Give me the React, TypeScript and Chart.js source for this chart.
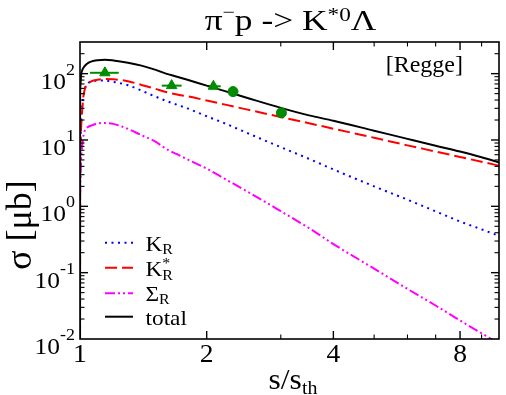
import React, { useEffect, useRef } from 'react';
import { Chart, registerables } from 'chart.js';

Chart.register(...registerables);

// s/s_th sample points shared by the theory curves
const sRatio = [1.0, 1.0005, 1.002, 1.006, 1.012, 1.02, 1.03, 1.046, 1.066, 1.1, 1.146, 1.2, 1.3, 1.4, 1.5, 1.6, 1.7, 1.8, 2.0, 2.2, 2.5, 3.0, 3.5, 4.0, 5.0, 6.0, 7.0, 8.0, 9.0, 10.0];
const totalSigma = [1e-4, 30, 65, 95, 112, 124, 134, 145, 153, 159, 162, 158, 146, 132, 116, 100, 90, 81, 66, 55, 43, 30.5, 23.5, 19.5, 13.8, 10.4, 8.2, 6.7, 5.5, 4.5];
const kStarRSigma = [1e-4, 3, 8, 15, 28, 48, 62, 70, 77, 81, 83, 82, 77, 67.6, 60, 53, 48.5, 45.5, 39.4, 34.4, 28.7, 22.2, 17.9, 14.8, 10.8, 8.3, 6.7, 5.55, 4.7, 4.04];
const kRSigma = [1e-4, 3, 8, 18, 32, 48, 63, 72, 76.6, 78.5, 78.5, 75, 67, 55.5, 46, 39, 34, 30, 22.8, 18, 12.7, 7.8, 5.2, 3.6, 2.0, 1.26, 0.84, 0.59, 0.45, 0.35];
const sigmaRSigma = [1e-4, 1, 2.5, 5, 8, 12, 14.5, 15.8, 16.6, 17.8, 18, 17.5, 14.7, 11.8, 9.7, 7.4, 6.1, 5.1, 3.7, 2.63, 1.67, 0.845, 0.47, 0.27, 0.115, 0.057, 0.032, 0.019, 0.0122, 0.0082];

// experimental data
const triX = [1.146, 1.651, 2.075];
const triY = [103, 66, 64.5];
const triXLo = [1.056, 1.564, 2.01];
const triXHi = [1.236, 1.744, 2.16];
const circX = [2.31, 3.01];
const circY = [53.6, 25.6];

// axes
const xMin = 1;
const xMax = 9.9;
const yMin = 0.01;
const yMax = 300;
const xMajorTicks = [1, 2, 4, 8];
const xMinorTicks = [3, 5, 6, 7, 9];
const yExponents = [-2, -1, 0, 1, 2];
const yMinorMultipliers = [2, 3, 4, 5, 6, 7, 8, 9];

const FONT = '"Liberation Serif", "Times New Roman", Times, serif';
const GREEN = '#008b00';
const BLUE = '#0000ff';
const RED = '#ff0000';
const MAGENTA = '#ff00ff';

const DASH_BLUE = [2, 4.5];
const DASH_RED = [12, 5];
const DASH_MAGENTA = [10, 3, 2, 3, 2, 3];

type Run = { t: string; s: number; dy?: number; noAdvance?: boolean };

function drawRuns(ctx: CanvasRenderingContext2D, runs: Run[], x: number, y: number, align: 'left' | 'center' | 'right', sx = 1) {
  ctx.save();
  ctx.textBaseline = 'alphabetic';
  ctx.textAlign = 'left';
  let w = 0;
  for (const r of runs) {
    ctx.font = `${r.s}px ${FONT}`;
    if (!r.noAdvance) w += ctx.measureText(r.t).width;
  }
  w *= sx;
  const start = align === 'left' ? x : align === 'center' ? x - w / 2 : x - w;
  ctx.translate(start, y);
  ctx.scale(sx, 1);
  let cx = 0;
  for (const r of runs) {
    ctx.font = `${r.s}px ${FONT}`;
    ctx.fillText(r.t, cx, r.dy || 0);
    if (!r.noAdvance) cx += ctx.measureText(r.t).width;
  }
  ctx.restore();
}

function seg(ctx: CanvasRenderingContext2D, x1: number, y1: number, x2: number, y2: number) {
  ctx.beginPath();
  ctx.moveTo(x1, y1);
  ctx.lineTo(x2, y2);
  ctx.stroke();
}

const decorPlugin = {
  id: 'decor',
  beforeDatasetsDraw(chart: any) {
    const { ctx, scales } = chart;
    const xs = scales.x;
    const ys = scales.y;
    ctx.save();
    ctx.strokeStyle = GREEN;
    ctx.lineWidth = 2;
    triX.forEach((_, i) => {
      const py = ys.getPixelForValue(triY[i]);
      seg(ctx, xs.getPixelForValue(triXLo[i]), py, xs.getPixelForValue(triXHi[i]), py);
    });
    ctx.restore();
  },
  afterDraw(chart: any) {
    const { ctx, chartArea: a, scales } = chart;
    const xs = scales.x;
    const ys = scales.y;
    ctx.save();
    ctx.strokeStyle = '#000';
    ctx.fillStyle = '#000';
    ctx.lineWidth = 1.6;
    ctx.strokeRect(a.left, a.top, a.right - a.left, a.bottom - a.top);

    const MAJ = 8;
    const MIN = 4.5;
    // x ticks (inward, bottom and top)
    ctx.lineWidth = 1.4;
    for (const v of xMajorTicks) {
      const px = xs.getPixelForValue(v);
      if (px > a.left + 1 && px < a.right - 1) {
        seg(ctx, px, a.bottom, px, a.bottom - MAJ);
        seg(ctx, px, a.top, px, a.top + MAJ);
      }
    }
    ctx.lineWidth = 1.1;
    for (const v of xMinorTicks) {
      const px = xs.getPixelForValue(v);
      if (px > a.left + 1 && px < a.right - 1) {
        seg(ctx, px, a.bottom, px, a.bottom - MIN);
        seg(ctx, px, a.top, px, a.top + MIN);
      }
    }
    // y ticks (inward, left and right)
    for (const e of yExponents) {
      ctx.lineWidth = 1.4;
      const py = ys.getPixelForValue(Math.pow(10, e));
      if (py < a.bottom - 1 && py > a.top + 1) {
        seg(ctx, a.left, py, a.left + MAJ, py);
        seg(ctx, a.right, py, a.right - MAJ, py);
      }
      ctx.lineWidth = 1.1;
      for (const m of yMinorMultipliers) {
        const v = m * Math.pow(10, e);
        if (v >= yMax) continue;
        const pm = ys.getPixelForValue(v);
        seg(ctx, a.left, pm, a.left + MIN, pm);
        seg(ctx, a.right, pm, a.right - MIN, pm);
      }
    }

    // tick labels
    for (const v of xMajorTicks) {
      const px = xs.getPixelForValue(v);
      drawRuns(ctx, [{ t: String(v), s: 26 }], px, a.bottom + 23, 'center', 1.06);
    }
    for (const e of yExponents) {
      const py = ys.getPixelForValue(Math.pow(10, e));
      drawRuns(ctx, [{ t: '10', s: 24 }, { t: String(e), s: 17, dy: -14 }], a.left - 5, py + 15, 'right', 1.06);
    }

    // title
    const cxm = (a.left + a.right) / 2;
    drawRuns(ctx, [
      { t: 'π', s: 29 },
      { t: '−', s: 18, dy: -12 },
      { t: 'p -> K', s: 29 },
      { t: '*0', s: 19, dy: -9 },
      { t: 'Λ', s: 29 },
    ], cxm + 1, 30, 'center', 1.22);

    // [Regge]
    drawRuns(ctx, [{ t: '[Regge]', s: 24 }], 463, 72, 'right', 1.0);

    // x title
    drawRuns(ctx, [{ t: 's/s', s: 30 }, { t: 'th', s: 19, dy: 5 }], 293, 389, 'center', 1.05);

    // y title
    ctx.save();
    ctx.translate(31, 225);
    ctx.rotate(-Math.PI / 2);
    drawRuns(ctx, [{ t: 'σ [μb]', s: 36 }], 0, 0, 'center', 1.0);
    ctx.restore();

    // legend
    const rows = [
      { y: 242.7, color: BLUE, dash: DASH_BLUE, runs: [{ t: 'K', s: 22 }, { t: 'R', s: 15, dy: 3 }] as Run[] },
      { y: 267.7, color: RED, dash: DASH_RED, runs: [{ t: 'K', s: 22 }, { t: '*', s: 15, dy: -8, noAdvance: true }, { t: 'R', s: 15, dy: 4 }] as Run[] },
      { y: 293.3, color: MAGENTA, dash: DASH_MAGENTA, runs: [{ t: 'Σ', s: 22 }, { t: 'R', s: 15, dy: 3 }] as Run[] },
      { y: 316.7, color: '#000', dash: [] as number[], runs: [{ t: 'total', s: 22 }] as Run[] },
    ];
    for (const r of rows) {
      ctx.save();
      ctx.strokeStyle = r.color;
      ctx.lineWidth = 2;
      ctx.setLineDash(r.dash);
      seg(ctx, a.left + 25, r.y, a.left + 53, r.y);
      ctx.restore();
      drawRuns(ctx, r.runs, a.left + 65.5, r.y + 8, 'left', 1.06);
    }
    ctx.restore();
  },
};

function toPoints(xv: number[], yv: number[]) {
  return xv.map((x, i) => ({ x, y: yv[i] }));
}

export default function App() {
  const ref = useRef<HTMLCanvasElement | null>(null);
  useEffect(() => {
    document.body.style.margin = '0';
    const canvas = ref.current;
    if (!canvas) return;
    const lineDs = (label: string, data: number[], color: string, dash: number[], order: number) => ({
      type: 'line' as const,
      label,
      data: toPoints(sRatio, data),
      borderColor: color,
      backgroundColor: color,
      borderWidth: 2,
      borderDash: dash,
      pointRadius: 0,
      fill: false,
      cubicInterpolationMode: 'monotone' as const,
      order,
    });
    const chart = new Chart(canvas, {
      type: 'line',
      data: {
        datasets: [
          {
            type: 'line',
            label: 'data (triangles)',
            data: toPoints(triX, triY),
            showLine: false,
            pointStyle: 'triangle',
            pointRadius: 6,
            pointBackgroundColor: GREEN,
            pointBorderColor: GREEN,
            pointBorderWidth: 1,
            order: 0,
          } as any,
          {
            type: 'line',
            label: 'data (circles)',
            data: toPoints(circX, circY),
            showLine: false,
            pointStyle: 'circle',
            pointRadius: 5,
            pointBackgroundColor: GREEN,
            pointBorderColor: GREEN,
            pointBorderWidth: 1,
            order: 0,
          } as any,
          lineDs('total', totalSigma, '#000000', [], 1),
          lineDs('K*R', kStarRSigma, RED, DASH_RED, 2),
          lineDs('KR', kRSigma, BLUE, DASH_BLUE, 3),
          lineDs('ΣR', sigmaRSigma, MAGENTA, DASH_MAGENTA, 4),
        ],
      },
      options: {
        responsive: false,
        maintainAspectRatio: false,
        animation: false,
        devicePixelRatio: 1,
        layout: { padding: { left: 80, top: 42, right: 5, bottom: 56 } },
        plugins: {
          legend: { display: false },
          title: { display: false },
          tooltip: { enabled: false },
        },
        scales: {
          x: { type: 'logarithmic', min: xMin, max: xMax, display: false },
          y: { type: 'logarithmic', min: yMin, max: yMax, display: false },
        },
      },
      plugins: [decorPlugin],
    });
    return () => chart.destroy();
  }, []);
  return (
    <div style={{ position: 'absolute', left: 0, top: 0, width: 506, height: 395, background: '#fff' }}>
      <canvas ref={ref} width={506} height={395} style={{ width: 506, height: 395, display: 'block' }} />
    </div>
  );
}
